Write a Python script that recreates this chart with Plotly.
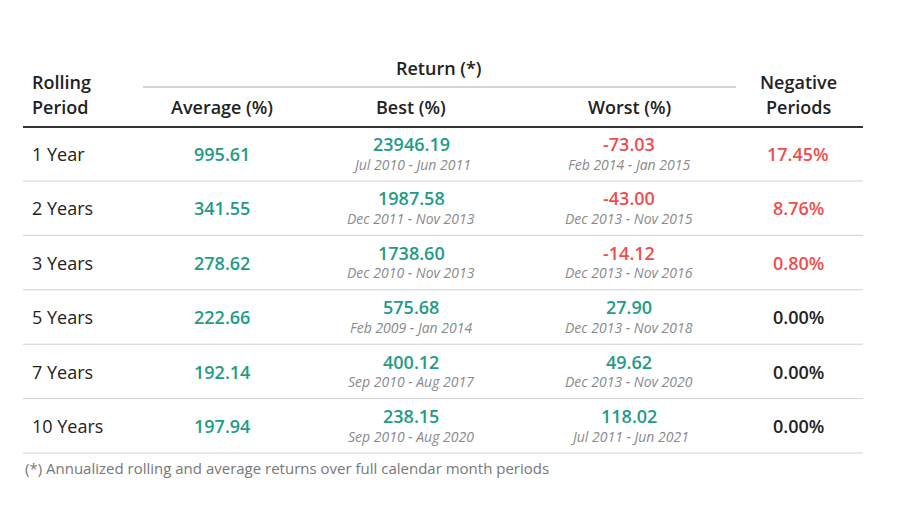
import plotly.graph_objects as go

periods = ["1 Year", "2 Years", "3 Years", "5 Years", "7 Years", "10 Years"]
average = ["995.61", "341.55", "278.62", "222.66", "192.14", "197.94"]
best = ["23946.19", "1987.58", "1738.60", "575.68", "400.12", "238.15"]
best_dates = ["Jul 2010 - Jun 2011", "Dec 2011 - Nov 2013", "Dec 2010 - Nov 2013",
              "Feb 2009 - Jan 2014", "Sep 2010 - Aug 2017", "Sep 2010 - Aug 2020"]
worst = ["-73.03", "-43.00", "-14.12", "27.90", "49.62", "118.02"]
worst_dates = ["Feb 2014 - Jan 2015", "Dec 2013 - Nov 2015", "Dec 2013 - Nov 2016",
               "Dec 2013 - Nov 2018", "Dec 2013 - Nov 2020", "Jul 2011 - Jun 2021"]
negative = ["17.45%", "8.76%", "0.80%", "0.00%", "0.00%", "0.00%"]

TEAL = "#1f9c86"
RED = "#f04e4e"
DARK = "#222222"
GREY = "#8a8a8a"
FONT = "Open Sans"

fig = go.Figure()
ann = []


def txt(x, y, s, color=DARK, size=18, anchor="center", italic=False, weight=600):
    ann.append(dict(x=x, y=y, text=f"<i>{s}</i>" if italic else s, showarrow=False,
                    xanchor=anchor, yanchor="middle",
                    font=dict(family=FONT, size=size, color=color, weight=weight)))


# header
txt(32, 82, "Rolling", anchor="left")
txt(32, 107, "Period", anchor="left")
txt(441, 68, "Return (*)")
txt(224, 107, "Average (%)")
txt(413, 107, "Best (%)")
txt(631, 107, "Worst (%)")
txt(800, 82, "Negative")
txt(800, 107, "Periods")

shapes = [
    dict(type="line", x0=145, x1=738, y0=87, y1=87, line=dict(color="#aaaaaa", width=1)),
    dict(type="line", x0=25, x1=865, y0=127, y1=127, line=dict(color="#333333", width=2)),
]

row_h = 54.4
for i, p in enumerate(periods):
    yc = 154 + i * row_h
    txt(32, yc, p, anchor="left", weight=400)
    txt(224, yc, average[i], color=TEAL)
    txt(413, yc - 10, best[i], color=TEAL)
    txt(413, yc + 10, best_dates[i], color=GREY, size=14, italic=True, weight=400)
    wc = RED if worst[i].startswith("-") else TEAL
    txt(631, yc - 10, worst[i], color=wc)
    txt(631, yc + 10, worst_dates[i], color=GREY, size=14, italic=True, weight=400)
    nc = RED if negative[i] != "0.00%" else DARK
    txt(800, yc, negative[i], color=nc)
    shapes.append(dict(type="line", x0=25, x1=865, y0=yc + 27, y1=yc + 27,
                       line=dict(color="#d0d0d0", width=1)))

txt(25, 468, "(*) Annualized rolling and average returns over full calendar month periods",
    color="#777777", size=15, anchor="left", weight=400)

fig.update_layout(
    width=900, height=525, margin=dict(l=0, r=0, t=0, b=0),
    paper_bgcolor="white", plot_bgcolor="white",
    xaxis=dict(range=[10, 910], visible=False, fixedrange=True),
    yaxis=dict(range=[533, 8], visible=False, fixedrange=True),
    annotations=ann, shapes=shapes, showlegend=False,
)
fig.write_html("out.html")
